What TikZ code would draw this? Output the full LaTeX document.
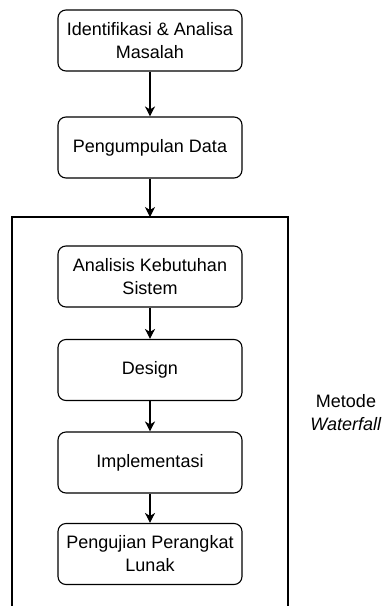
\documentclass[tikz,border=0pt]{standalone}
\usepackage{fontspec}
\setmainfont{Liberation Sans}
\usetikzlibrary{arrows.meta}
\begin{document}
\begin{tikzpicture}[x=1pt,y=-1pt,
  stepbox/.style={draw, line width=1.1pt, rounded corners=8pt, minimum width=184pt, minimum height=61pt, align=center, inner sep=0pt},
  flow/.style={draw, line width=1.1pt, -{Stealth[length=10pt,width=10pt,inset=3pt]}},
  font=\fontsize{18}{23}\selectfont]
\useasboundingbox (0,0) rectangle (382,606);
\node[stepbox] (a) at (150,40.5) {Identifikasi \& Analisa\\Masalah};
\node[stepbox] (b) at (150,147.5) {Pengumpulan Data};
\coordinate (ftop) at (150,217);
\draw[line width=1.1pt] (12,620) -- (12,217) -- (288,217) -- (288,620);
\node[stepbox] (c) at (150,276.5) {Analisis Kebutuhan\\Sistem};
\node[stepbox] (d) at (150,370) {Design};
\node[stepbox] (e) at (150,462.5) {Implementasi};
\node[stepbox] (f) at (150,554) {Pengujian Perangkat\\Lunak};
\node[align=center, inner sep=0pt] (m) at (346,413) {Metode\\\textit{Waterfall}};
\draw[flow] (a) -- (b);
\draw[flow] (b) -- (ftop);
\draw[flow] (c) -- (d);
\draw[flow] (d) -- (e);
\draw[flow] (e) -- (f);
\end{tikzpicture}
\end{document}
